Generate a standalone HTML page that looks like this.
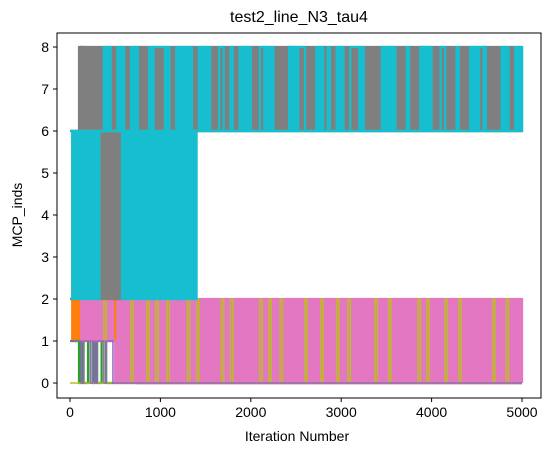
<!DOCTYPE html>
<html><head><meta charset="utf-8"><style>
body{margin:0;background:#fff;}
svg{display:block;font-family:"Liberation Sans","DejaVu Sans",sans-serif;}
</style></head><body>
<svg id="chart" width="554" height="453" viewBox="0 0 554 453">
<rect width="554" height="453" fill="#fff"/>
<text x="299" y="22" font-size="16" text-anchor="middle" fill="#000">test2_line_N3_tau4</text>
<g id="series"></g>
<rect x="57" y="33" width="484" height="365" fill="none" stroke="#000" stroke-width="1"/>
<g id="xticks"></g>
<g id="yticks"></g>
<text x="297" y="441" font-size="14" text-anchor="middle">Iteration Number</text>
<text x="22" y="215" font-size="14" text-anchor="middle" transform="rotate(-90 22 215)">MCP_inds</text>
</svg>
<script>
const xTicks=[0,1000,2000,3000,4000,5000];
const yTicks=[0,1,2,3,4,5,6,7,8];
const stepIter=25;
const seriesNames=["orange","red","green","pink","olive-low","purple","gray-top","gray-mid","olive-top","cyan-main","cyan-top"];
const seriesColors=["#ff7f0e","#d62728","#2ca02c","#e377c2","#bcbd22","#9467bd","#7f7f7f","#7f7f7f","#bcbd22","#17becf","#17becf"];
const seriesWidths=[2.3,2.3,2.3,2.3,1.5,1.5,2.3,2.3,2.3,2.3,2.3];
const sOrange="2121212121 2121212121 2121212121 0000000000 0000000000 0000000000 0000000000 0000000000 0000000000 0000000000 0000000000 0000000000 0000000000 0000000000 0000000000 0000000000 0000000000 0000000000 0000000000 0000000000 0";
const sRed="2222282222 2222222222 2212121222 0000000000 0000000000 0000000000 0000000000 0000000000 0000000000 0000000000 0000000000 0000000000 0000000000 0000000000 0000000000 0000000000 0000000000 0000000000 0000000000 0000000000 0";
const sGreen="1111010011 0100110000 0000000000 0000000000 0000000000 0000000000 0000000000 0000000000 0000000000 0000000000 0000000000 0000000000 0000000000 0000000000 0000000000 0000000000 0000000000 0000000000 0000000000 0000000000 0";
const sPink="2222212121 2121212121 0202020202 0202020202 0202020202 0202020202 0202020202 0202020202 0202020202 0202020202 0202020202 0202020202 0202020202 0202020202 0202020202 0202020202 0202020202 0202020202 0202020202 0202020202 0";
const sOliveLow="0000000000 0000020000 0000000200 0000200020 0002000000 0020002000 0000000200 0200000000 0000200020 0002000000 0000200000 0200000020 0002000000 0000020000 0200000000 0000200020 0000002000 0020000000 0000000200 0002000000 0";
const sPurple="1111101110 1011101110 0000000000 0000000000 0000000000 0000000000 0000000000 0000000000 0000000000 0000000000 0000000000 0000000000 0000000000 0000000000 0000000000 0000000000 0000000000 0000000000 0000000000 0000000000 0";
const sGrayTop="6666868686 8686868686 8686868686 8686868686 8686868686 8686868686 8686868686 8686868686 8686868686 8686868686 8686868686 8686868686 8686868686 8686868686 8686868686 8686868686 8686868686 8686868686 8686868686 8686868686 8";
const sGrayMid="6666666666 6662626262 6262666666 6666662666 6666666662 6666666666 6666666666 6666666666 6666666666 6666666666 6666666666 6666666666 6666666666 6666666666 6666666666 6666666666 6666666666 6666666666 6666666666 6666666666 6";
const sOliveTop="2666666666 6666666666 6666666666 6666666666 6666666666 6666666666 6666666666 6666666666 6666666666 6666666666 6666666666 6666666666 6666666666 6666666666 6666666666 6666666666 6666666666 6666666666 6666666666 6666666666 6";
const sCyanMain="2626262626 2626666666 6662626262 6262626262 6262626262 6262626868 6866668866 6866666868 6666886868 6666666868 6888666668 6866666686 8666888868 6666666668 6868666668 6666686868 6666886666 6866666868 6888666666 6868666868 6";
const sCyanTop="6666666666 6666686866 6868666868 6666686888 8868666868 6868666666 6666666666 6666686666 6666666666 6666666866 6666666666 6666866666 6666666666 6666666686 6666666666 6666686666 6666666666 6666666666 6668666666 6666666666 6";
const seriesStrings=[sOrange,sRed,sGreen,sPink,sOliveLow,sPurple,sGrayTop,sGrayMid,sOliveTop,sCyanMain,sCyanTop];

const NS="http://www.w3.org/2000/svg";
const xs=it=>70+it*0.0904;
const ys=v=>383-42*v;
const sg=document.getElementById("series");
seriesStrings.forEach((s,k)=>{
  const vals=s.replace(/\s/g,"").split("").map(Number);
  let d="";
  vals.forEach((v,i)=>{
    const x=xs(i*stepIter).toFixed(2), y=ys(v).toFixed(2);
    if(i===0) d+="M"+x+" "+y;
    else d+="H"+x+"V"+y;
  });
  const p=document.createElementNS(NS,"path");
  p.setAttribute("d",d);
  p.setAttribute("fill","none");
  p.setAttribute("stroke",seriesColors[k]);
  p.setAttribute("stroke-width",seriesWidths[k]);
  
  
  sg.appendChild(p);
});
const xg=document.getElementById("xticks");
xTicks.forEach(t=>{
  const l=document.createElementNS(NS,"line");
  l.setAttribute("x1",xs(t));l.setAttribute("x2",xs(t));l.setAttribute("y1",398);l.setAttribute("y2",402);l.setAttribute("stroke","#000");
  
  
  xg.appendChild(l);
  const tx=document.createElementNS(NS,"text");
  tx.setAttribute("x",xs(t));tx.setAttribute("y",417);tx.setAttribute("font-size","14");tx.setAttribute("text-anchor","middle");
  tx.textContent=t;
  
  
  xg.appendChild(tx);
});
const yg=document.getElementById("yticks");
yTicks.forEach(t=>{
  const l=document.createElementNS(NS,"line");
  l.setAttribute("x1",53);l.setAttribute("x2",57);l.setAttribute("y1",ys(t));l.setAttribute("y2",ys(t));l.setAttribute("stroke","#000");
  
  
  yg.appendChild(l);
  const tx=document.createElementNS(NS,"text");
  tx.setAttribute("x",49);tx.setAttribute("y",ys(t)+5);tx.setAttribute("font-size","14");tx.setAttribute("text-anchor","end");
  tx.textContent=t;
  
  
  yg.appendChild(tx);
});
</script>
</body></html>
